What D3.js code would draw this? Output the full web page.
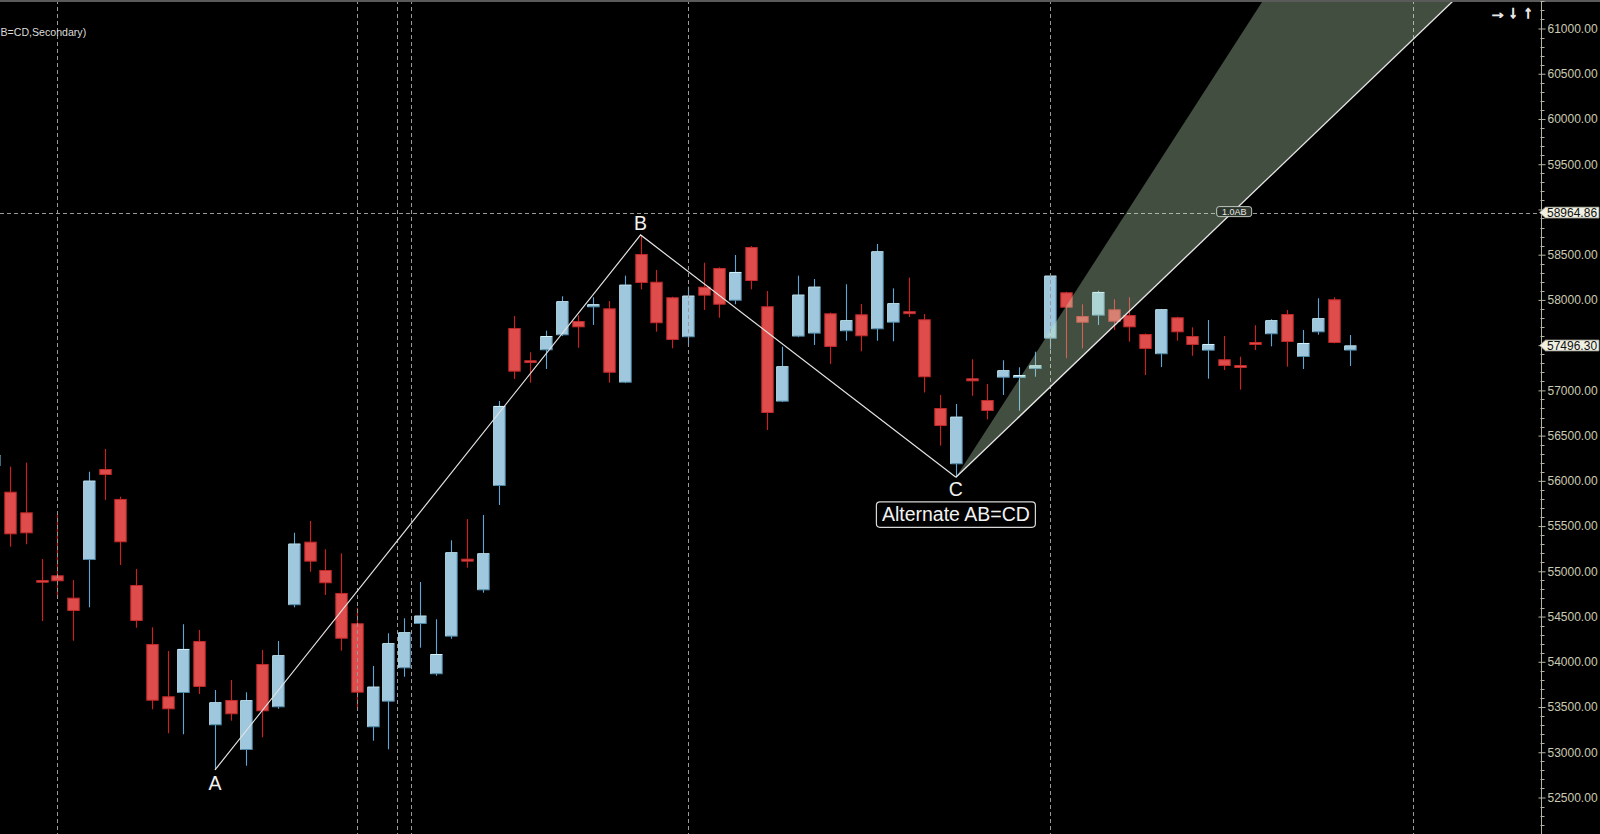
<!DOCTYPE html>
<html>
<head>
<meta charset="utf-8">
<script src="https://cdn.jsdelivr.net/npm/d3@7"></script>
<style>
  html, body { margin: 0; padding: 0; background: #000; overflow: hidden; }
  svg { display: block; }
  text { font-family: "Liberation Sans", Arial, sans-serif; }
</style>
</head>
<body>
<svg id="chart" width="1600" height="834"></svg>
<script>
// ---------------- DATA ----------------
const firstIndex = -1;
const opens  = [56164,55880,55652,54904,54956,54709,55125,56131,55800,54849,54197,53619,53655,54230,53298,53578,53025,53976,53497,54625,55328,55015,54761,54426,53276,53559,53928,54418,53862,54278,55133,54790,55943,57690,57333,57443,57609,57767,57918,57907,57085,58508,58201,58029,57587,58146,58353,57991,58585,57930,56875,57594,57627,57852,57653,57841,57675,57748,57870,57786,56805,56183,57134,56894,57140,57140,57236,57571,58084,57822,57826,57896,57833,57623,57399,57808,57601,57439,57344,57277,57527,57620,57844,57369,57642,58007,57440];
const highs  = [56341,56157,56201,55136,55623,54904,56101,56352,55825,55026,54381,54119,54415,54352,53688,53799,53663,54131,54230,55427,55556,55244,55199,54598,53954,54315,54481,54882,54470,55343,55578,55623,56883,57822,57421,57660,58040,57830,58029,57988,58268,58718,58331,58035,58146,58411,58360,58497,58596,58099,57483,58268,58231,57860,58173,57955,58618,58128,58246,57844,56949,56850,57344,57071,57333,57255,57428,58275,58090,57952,58102,58007,58029,57630,57900,57815,57697,57778,57601,57372,57720,57786,57889,57668,58018,58029,57612];
const lows   = [56120,55272,55299,54451,54720,54233,54602,55788,55070,54377,53475,53210,53199,53644,52804,53349,52852,53166,53480,54602,54996,54738,54123,53475,53128,53033,53835,54156,53846,54255,55040,54764,55733,57126,57085,57236,57600,57472,57723,57085,57080,58117,57649,57465,57494,57889,57803,57952,58117,56562,56870,57587,57502,57292,57549,57432,57549,57543,57811,56977,56389,56039,56941,56680,56949,56775,57151,57454,57355,57465,57723,57668,57538,57170,57258,57549,57383,57129,57225,57008,57446,57487,57262,57236,57616,57520,57270];
const closes = [56286,55409,55420,54874,54890,54562,56002,56065,55321,54451,53570,53475,54142,53722,53552,53420,53575,53453,54072,55306,55107,54868,54255,53659,53725,54205,54326,54510,54086,55210,55114,55199,56828,57207,57303,57601,57985,57697,57952,57195,58168,58187,57742,57557,58047,58047,57947,58309,58209,56750,57266,58058,58146,57480,57775,57598,58537,57963,57848,57145,56606,56709,57100,56772,57222,57167,57277,58268,57914,57748,58088,57759,57697,57458,57896,57642,57502,57513,57270,57251,57510,57775,57535,57524,57797,57524,57496.30];

const yTicks = [52500,53000,53500,54000,54500,55000,55500,56000,56500,57000,57500,58000,58500,59000,59500,60000,60500,61000];
const gridIndices = [3, 22, 24.57, 25.45, 43, 66, 89];
const levelPrice = 58964.86;
const lastPrice = 57496.30;

// pattern points: [candle index, price]
const patternNames = ["A", "B", "C"];
const patternPoints = [[13, 52804], [40, 58718], [60, 56039]];
// projection fan from C: [candle index, price] of far ends
const projUpperEnd = [79.5, 61315];
const projLowerEnd = [91.6, 61315];
const projLabel = "1.0AB";
const patternTitle = "Alternate AB=CD";
const studyTitle = "B=CD,Secondary)";

// ---------------- CHART ----------------
const W = 1600, H = 834;
const axisX = 1541.5;
const step = 15.765;
const x = d3.scaleLinear().domain([-1, 85]).range([10 - step, 10 + 85 * step]);
const y = d3.scaleLinear().domain([52500, 61000]).range([797.5, 28.5]);

const svg = d3.select("#chart");
svg.append("rect").attr("width", W).attr("height", H).attr("fill", "#000");

svg.append("defs").append("clipPath").attr("id", "plotclip")
  .append("rect").attr("x", 0).attr("y", 2).attr("width", axisX).attr("height", H - 2);

const plot = svg.append("g").attr("clip-path", "url(#plotclip)");

const candles = opens.map((o, k) => ({ i: firstIndex + k, o, h: highs[k], l: lows[k], c: closes[k] }));

// horizontal dashed level
plot.append("line")
  .attr("x1", 0).attr("x2", axisX)
  .attr("y1", Math.round(y(levelPrice)) + 0.5).attr("y2", Math.round(y(levelPrice)) + 0.5)
  .attr("stroke", "#9a9a9a").attr("stroke-width", 1).attr("stroke-dasharray", "4,3");

// candles
const cg = plot.append("g");
candles.forEach(d => {
  const cx = Math.round(x(d.i));
  const up = d.c >= d.o;
  const g = cg.append("g");
  g.append("line")
    .attr("x1", cx + 0.5).attr("x2", cx + 0.5)
    .attr("y1", y(d.h)).attr("y2", y(d.l))
    .attr("stroke", up ? "#5ea6d6" : "#d41e1e").attr("stroke-width", 1.1);
  let top = y(Math.max(d.o, d.c)), bot = y(Math.min(d.o, d.c));
  if (bot - top < 2.5) { const m = (top + bot) / 2; top = m - 1.5; bot = m + 1.5; }
  const bx = cx - 5.7, bw = 12.4;
  if (up) {
    g.append("rect").attr("x", bx + 0.5).attr("y", top + 0.5)
      .attr("width", bw - 1).attr("height", Math.max(bot - top - 1, 1))
      .attr("fill", "#9fc8de").attr("stroke", "#4d87a6").attr("stroke-width", 1);
    g.append("path")
      .attr("d", `M${bx + 0.5},${bot - 0.5}V${top + 0.5}H${bx + bw - 0.5}`)
      .attr("fill", "none").attr("stroke", "#d6f4fb").attr("stroke-width", 1);
  } else {
    g.append("rect").attr("x", bx + 0.5).attr("y", top + 0.5)
      .attr("width", bw - 1).attr("height", Math.max(bot - top - 1, 1))
      .attr("fill", "#de4c4c").attr("stroke", "#c42a2a").attr("stroke-width", 1);
  }
});

// vertical dashed grid lines (drawn over candles)
plot.selectAll("line.vgrid").data(gridIndices).enter().append("line")
  .attr("class", "vgrid")
  .attr("x1", d => Math.round(x(d)) + 0.5).attr("x2", d => Math.round(x(d)) + 0.5)
  .attr("y1", 0).attr("y2", H)
  .attr("stroke", "#9a9a9a").attr("stroke-width", 1).attr("stroke-dasharray", "4,3");

// projection fan
const pC = patternPoints[2];
const fan = [[x(pC[0]), y(pC[1])], [x(projUpperEnd[0]), y(projUpperEnd[1])], [x(projLowerEnd[0]), y(projLowerEnd[1])]];
plot.append("path")
  .attr("d", d3.line()(fan) + "Z")
  .attr("fill", "rgb(200,236,194)").attr("fill-opacity", 0.33).attr("stroke", "none");
plot.append("line")
  .attr("x1", fan[0][0]).attr("y1", fan[0][1]).attr("x2", fan[2][0]).attr("y2", fan[2][1])
  .attr("stroke", "#e8e8e8").attr("stroke-width", 1.3);

// pattern lines
plot.append("path")
  .attr("d", d3.line().x(p => x(p[0])).y(p => y(p[1]))(patternPoints))
  .attr("fill", "none").attr("stroke", "#e2e2e2").attr("stroke-width", 1.2);

// point labels
const labelDy = [20, -4.5, 18.7];
patternNames.forEach((n, k) => {
  plot.append("text")
    .attr("x", x(patternPoints[k][0])).attr("y", y(patternPoints[k][1]) + labelDy[k])
    .attr("text-anchor", "middle").attr("font-size", 19.5).attr("fill", "#f2f2f2").text(n);
});

// pattern title box
const tg = plot.append("g");
const tt = tg.append("text")
  .attr("x", x(pC[0])).attr("y", y(pC[1]) + 43.5)
  .attr("text-anchor", "middle").attr("font-size", 19.5).attr("fill", "#f2f2f2").text(patternTitle);
const tb = tt.node().getBBox();
tg.insert("rect", "text")
  .attr("x", tb.x - 5.5).attr("y", y(pC[1]) + 24.5)
  .attr("width", tb.width + 11).attr("height", 25.5)
  .attr("rx", 3.5).attr("fill", "#000").attr("stroke", "#d8d8d8").attr("stroke-width", 1.2);

// 1.0AB label on lower line at the level price
const tLev = (y(levelPrice) - fan[0][1]) / (fan[2][1] - fan[0][1]);
const labX = fan[0][0] + tLev * (fan[2][0] - fan[0][0]) + 2;
const labY = y(levelPrice) - 1;
const lg = plot.append("g");
lg.append("rect").attr("x", labX - 17.5).attr("y", labY - 5).attr("width", 35).attr("height", 10)
  .attr("rx", 2.5).attr("fill", "#2c362c").attr("stroke", "#d0d8d0").attr("stroke-width", 0.9);
lg.append("text").attr("x", labX).attr("y", labY + 3.3).attr("text-anchor", "middle")
  .attr("font-size", 9).attr("fill", "#e6e6e6").text(projLabel);

// study title
svg.append("text").attr("x", 0.5).attr("y", 36).attr("text-anchor", "start")
  .attr("font-size", 10.6).attr("fill", "#dcdcdc").text(studyTitle);

// top border
svg.append("rect").attr("x", 0).attr("y", 0).attr("width", W).attr("height", 2).attr("fill", "#5a5a5a");

// right axis
svg.append("line").attr("x1", axisX).attr("x2", axisX).attr("y1", 2).attr("y2", H)
  .attr("stroke", "#b4b4a4").attr("stroke-width", 1);

const minorTicks = d3.range(52200, 61301, 100).filter(v => v % 500 !== 0);
svg.selectAll("line.minor").data(minorTicks).enter().append("line")
  .attr("class", "minor")
  .attr("x1", axisX - 1).attr("x2", axisX + 3)
  .attr("y1", d => Math.round(y(d)) + 0.5).attr("y2", d => Math.round(y(d)) + 0.5)
  .attr("stroke", "#b4b4a4").attr("stroke-width", 1);

const axis = d3.axisRight(y).tickValues(yTicks).tickFormat(d3.format(".2f")).tickSize(4).tickPadding(2);
const ag = svg.append("g").attr("transform", `translate(${axisX},0)`).call(axis);
ag.select(".domain").remove();
ag.selectAll(".tick line").attr("stroke", "#b4b4a4").attr("x1", -3);
ag.selectAll(".tick text").attr("fill", "#cbcbb2").attr("font-size", 12)
  .attr("font-family", "'Liberation Sans', Arial, sans-serif");
// hide the axis label where price boxes sit
ag.selectAll(".tick").filter(d => Math.abs(y(d) - y(levelPrice)) < 12 || Math.abs(y(d) - y(lastPrice)) < 12)
  .select("text").remove();

// price boxes
[levelPrice, lastPrice].forEach(p => {
  const yy = y(p);
  const g = svg.append("g");
  g.append("path")
    .attr("d", `M${axisX - 2},${yy}L${axisX + 4},${yy - 5.5}H1599V${yy + 5.5}H${axisX + 4}Z`)
    .attr("fill", "#efefe2").attr("stroke", "#8a8a80").attr("stroke-width", 0.8);
  g.append("text").attr("x", axisX + 5.5).attr("y", yy + 4.3)
    .attr("font-size", 12).attr("fill", "#111").text(d3.format(".2f")(p));
});

// arrows top right
const arrows = ["\u2192", "\u2193", "\u2191"];
arrows.forEach((a, k) => {
  svg.append("text").attr("x", 1498 + k * 15).attr("y", 18).attr("text-anchor", "middle")
    .attr("font-size", 17).attr("font-weight", "bold").attr("fill", "#e6e6e6")
    .attr("stroke", "#e6e6e6").attr("stroke-width", 1.1)
    .attr("font-family", "'DejaVu Sans', sans-serif").text(a);
});
</script>
</body>
</html>
